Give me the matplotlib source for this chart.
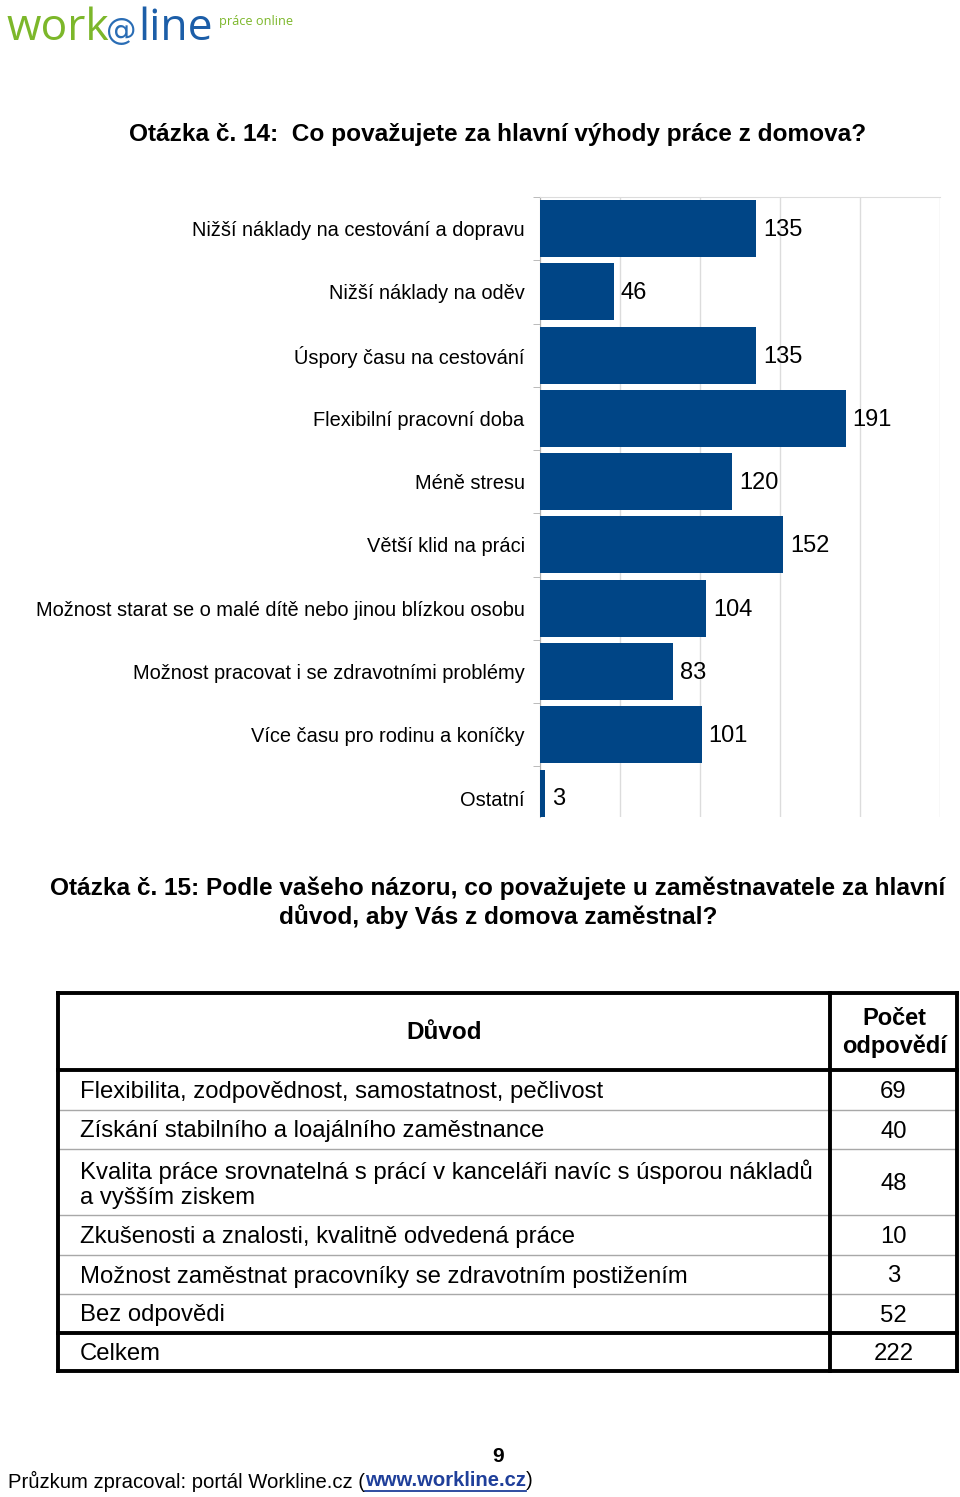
import matplotlib
matplotlib.use("Agg")
import matplotlib.pyplot as plt
import matplotlib.transforms as mtransforms
import numpy as np

plt.rcParams["font.family"] = ["Liberation Sans", "DejaVu Sans"]

# Question 14 - bar chart data
categories = [
    "Nižší náklady na cestování a dopravu",
    "Nižší náklady na oděv",
    "Úspory času na cestování",
    "Flexibilní pracovní doba",
    "Méně stresu",
    "Větší klid na práci",
    "Možnost starat se o malé dítě nebo jinou blízkou osobu",
    "Možnost pracovat i se zdravotními problémy",
    "Více času pro rodinu a koníčky",
    "Ostatní",
]
counts = [135, 46, 135, 191, 120, 152, 104, 83, 101, 3]
x_ticks = [0, 50, 100, 150, 200, 250]

# Question 15 - table data
reasons = [
    "Flexibilita, zodpovědnost, samostatnost, pečlivost",
    "Získání stabilního a loajálního zaměstnance",
    "Kvalita práce srovnatelná s prácí v kanceláři navíc s úsporou nákladů\na vyšším ziskem",
    "Zkušenosti a znalosti, kvalitně odvedená práce",
    "Možnost zaměstnat pracovníky se zdravotním postižením",
    "Bez odpovědi",
    "Celkem",
]
answers = [69, 40, 48, 10, 3, 52, 222]

BAR_COLOR = "#004586"
W, H = 960, 1497

fig = plt.figure(figsize=(W / 100, H / 100), dpi=100)

# overlay axes in pixel coordinates for free text and the table
ax0 = fig.add_axes([0, 0, 1, 1])
ax0.set_xlim(0, W)
ax0.set_ylim(H, 0)
ax0.axis("off")

# logo
logo_font = ["Open Sans", "DejaVu Sans"]
ax0.text(6, 40, "work", fontsize=32, color="#7cb72a", family=logo_font, va="baseline")
ax0.text(106, 40, "@", fontsize=22, color="#2a6db5", family=["DejaVu Sans"], va="baseline")
ax0.text(138, 40, "line", fontsize=32, color="#1c5ea8", family=logo_font, va="baseline")
ax0.text(219, 25, "práce online", fontsize=9.2, color="#7cb72a", family=logo_font,
         va="baseline")

# titles
ax0.text(498, 134, "Otázka č. 14:  Co považujete za hlavní výhody práce z domova?",
         fontsize=17.6, fontweight="bold", ha="center", va="center")
ax0.text(498, 903, "Otázka č. 15: Podle vašeho názoru, co považujete u zaměstnavatele za hlavní\n"
         "důvod, aby Vás z domova zaměstnal?",
         fontsize=17.6, fontweight="bold", ha="center", va="center", linespacing=1.2)

# bar chart
ax = fig.add_axes([540 / W, 1 - 817 / H, 400 / W, 620 / H])
y = np.arange(len(categories))
ax.barh(y, counts, height=0.9, color=BAR_COLOR, zorder=3)
ax.set_xlim(0, 250)
ax.set_ylim(9.3, -0.5)
ax.set_xticks(x_ticks)
ax.xaxis.grid(True, color="#dcdcdc", lw=1, zorder=0)
ax.tick_params(axis="x", length=0, labelbottom=False)
ax.set_yticks(y)
ax.set_yticklabels(categories, fontsize=14.4)
ax.set_yticks(np.arange(len(categories)) - 0.5, minor=True)
ax.tick_params(axis="y", which="major", length=0, pad=11)
ax.tick_params(axis="y", which="minor", length=5, color="#b0b0b0")
for side in ["right", "bottom"]:
    ax.spines[side].set_visible(False)
ax.spines["top"].set_color("#dcdcdc")
ax.spines["left"].set_color("#b0b0b0")
for yi, v in zip(y, counts):
    ax.annotate(str(v), (v, yi), xytext=(5, -1), textcoords="offset points",
                va="center", ha="left", fontsize=17)

# table
left, mid, right = 58, 830, 957
row_edges = [993, 1070, 1110, 1149, 1215, 1255, 1294, 1333, 1371]
thick = 2.8
for yy in row_edges[2:-2]:
    ax0.plot([left, right], [yy, yy], color="#a8a8a8", lw=1)
for yy in [row_edges[0], row_edges[1], row_edges[-2], row_edges[-1]]:
    ax0.plot([left, right], [yy, yy], color="black", lw=thick, solid_capstyle="projecting")
for xx in [left, mid, right]:
    ax0.plot([xx, xx], [row_edges[0], row_edges[-1]], color="black", lw=thick,
             solid_capstyle="projecting")

ax0.text((left + mid) / 2, (row_edges[0] + row_edges[1]) / 2 + 1, "Důvod",
         fontsize=17.5, fontweight="bold", ha="center", va="center")
ax0.text((mid + right) / 2 + 1, (row_edges[0] + row_edges[1]) / 2 + 1, "Počet\nodpovědí",
         fontsize=17, fontweight="bold", ha="center", va="center", linespacing=1.2)
for i, (r, n) in enumerate(zip(reasons, answers)):
    yc = (row_edges[i + 1] + row_edges[i + 2]) / 2 + 2
    ax0.text(80, yc, r, fontsize=17.2, ha="left", va="center", linespacing=1.2)
    ax0.text((mid + right) / 2, yc, str(n), fontsize=17.2, ha="center", va="center")

# footer
ax0.text(498, 1456, "9", fontsize=15, fontweight="bold", ha="center", va="center")
px_y = mtransforms.blended_transform_factory(mtransforms.IdentityTransform(), ax0.transData)
t1 = ax0.text(8, 1481, "Průzkum zpracoval: portál Workline.cz (", fontsize=14.6,
              ha="left", va="center")
fig.canvas.draw()
x_link = t1.get_window_extent().x1
t2 = ax0.text(x_link, 1481, "www.workline.cz", fontsize=14.6, fontweight="bold",
              color="#1f3f9a", ha="left", va="center", transform=px_y)
fig.canvas.draw()
bb2 = t2.get_window_extent()
ax0.plot([bb2.x0, bb2.x1], [1491, 1491], color="#1f3f9a", lw=1.3, transform=px_y)
ax0.text(bb2.x1, 1481, ")", fontsize=14.6, ha="left", va="center", transform=px_y)

fig.savefig("out.png", dpi=100)
